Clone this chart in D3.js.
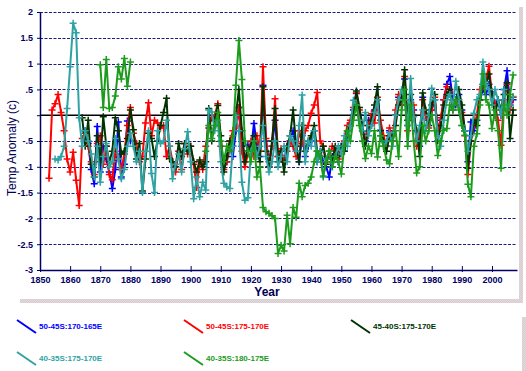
<!DOCTYPE html>
<html lang="en">
<head>
<meta charset="UTF-8">
<title>Temp Anomaly</title>
<script src="https://d3js.org/d3.v7.min.js"></script>
<style>
  body { margin: 0; background: #fff; }
  svg { display: block; font-family: "Liberation Sans", Arial, sans-serif; }
  .axis text { fill: #000066; font-weight: bold; font-size: 9px; }
  .legend text { font-size: 8px; font-weight: bold; }
</style>
</head>
<body>
<svg width="526" height="371"></svg>
<script>
// legend names and colours, in drawing order
const seriesNames = ["50-45S:170-165E", "50-45S:175-170E", "45-40S:175-170E", "40-35S:175-170E", "40-35S:180-175E"];
const seriesColors = ["#0000ff", "#ff0000", "#003300", "#2fa3a3", "#1c9c1c"];

const yTicks = [2, 1.5, 1, 0.5, 0, -0.5, -1, -1.5, -2, -2.5, -3];
const yTickLabels = ["2", "1.5", "1", ".5", "", "-.5", "-1", "-1.5", "-2", "-2.5", "-3"];
const xTicks = [1850, 1860, 1870, 1880, 1890, 1900, 1910, 1920, 1930, 1940, 1950, 1960, 1970, 1980, 1990, 2000];

// one value per year from the start year given next to each array
// 50-45S:170-165E, 1865-1880 and 1912-2007
const blueA = [-0.3, -0.55, -1.05, -1.33, -0.22,
  -1.1, -0.6, -0.85, -1.1, -1.42, -1.05, -0.13, -1.2, -0.95, -0.11,
  -0.5];
const blueB = [-0.9, -0.6, -0.8, -0.3, 0.15, -0.6, -0.9, -0.58,
  -0.7, -0.16, -0.6, -0.8, 0.58, -0.5, -0.9, -0.6, -0.1, -0.8,
  -0.7, -0.9, -0.6, -0.5, -0.3, -0.7, -0.9, -0.4, -0.8, -0.6,
  -0.5, -0.3, -0.9, -0.7, -0.9, -1.0, -1.2, -0.8, -0.7, -0.9,
  -0.6, -0.7, -0.4, -0.2, 0.1, 0.42, 0.0, -0.3, -0.5, -0.1,
  -0.2, 0.1, 0.3, -0.29, -0.5, -0.6, -0.3, -0.5, 0.0, 0.35,
  0.2, 0.7, -0.2, 0.3, 0.1, -0.5, -0.6, 0.35, 0.0, -0.2,
  0.1, 0.3, -0.3, -0.1, 0.3, 0.6, 0.75, 0.3, 0.2, 0.4,
  0.1, -0.3, -0.9, -0.13, -0.3, -0.1, 0.3, 0.5, 0.4, 0.6,
  0.45, 0.2, 0.3, 0.0, 0.5, 0.86, 0.2, 0.3];

// 50-45S:175-170E, 1853-2007
const red = [-1.22, 0.1, 0.22, 0.4, 0.05, -0.3, -0.85,
  -1.1, -0.72, -1.26, -1.75, -0.45, -0.35, -0.6, -0.9, -1.15, -0.55,
  -0.4, -0.95, -0.6, -1.15, -1.25, -0.7, -0.85, -1.05, -0.75, -0.2,
  0.15, -0.35, -0.55, -0.9, -0.8, -0.15, 0.24, -0.4, -0.1, -0.15,
  -0.25, -0.2, -0.8, -0.6, -0.9, -1.1, -0.7, -1.05, -0.55, -0.75,
  -0.6, -0.95, -1.4, -0.9, -1.05, -0.6, -0.25, -0.05, 0.0, 0.22,
  -0.6, -1.05, -0.9, -0.5, -0.3, -0.25, 0.15, -0.7, -1.0, -0.75,
  -0.5, -0.8, -0.4, -0.7, 0.94, -0.45, -1.0, -0.6, 0.32, -0.8,
  -0.65, -0.9, -0.7, -0.5, -0.6, -0.8, -0.3, -0.55, -0.3, -0.2,
  0.04, 0.2, 0.44, -0.5, -0.6, -0.9, -0.8, -0.6, -0.7, -0.85,
  -0.7, -0.5, -0.2, -0.1, 0.15, 0.43, 0.1, -0.3, -0.45, -0.2,
  0.03, -0.15, 0.35, -0.1, -0.4, -0.6, -0.25, -0.5, 0.1, 0.4,
  0.2, 0.75, -0.3, 0.1, 0.2, -0.6, -0.4, 0.3, 0.0, -0.25,
  0.1, 0.35, -0.3, -0.05, 0.3, 0.55, 0.45, 0.2, 0.25, 0.3,
  0.05, -0.4, -1.15, -0.5, -0.2, 0.0, 0.5, 0.55, 0.7, 0.95,
  0.4, 0.2, -0.1, -0.58, 0.3, 0.6, 0.1, 0.35];

// 45-40S:175-170E, 1864-2007
const darkGreen = [-0.05, -0.6, -0.1, -0.95, -1.2, -0.4,
  -0.9, -0.03, -0.6, -0.9, -0.7, -0.05, -0.3, -0.75, -0.7, -0.45,
  0.1, -0.28, -0.85, -0.55, -1.47, -0.85, -0.35, -0.45, -0.8, -0.5,
  -0.2, 0.05, 0.33, -0.84, -0.9, -1.0, -0.55, -0.8, -0.55, -0.7,
  -0.6, -0.9, -1.1, -0.87, -1.0, -0.9, 0.13, -0.5, -0.1, 0.19,
  -0.4, -1.1, -0.8, -0.5, -0.6, 0.0, 0.5, -0.3, -0.9, -0.7,
  -0.6, -0.4, -0.7, -0.9, 0.55, -0.7, -1.0, -0.5, 0.13, -0.9,
  -0.7, -1.1, -0.6, -0.4, 0.1, -0.6, -0.9, -0.2, -0.7, -0.5,
  -0.4, -0.2, -0.7, -0.8, -0.6, -0.95, -0.7, -0.9, -0.6, -0.8,
  -0.6, -0.7, -0.3, -0.2, 0.0, 0.47, 0.15, -0.2, -0.6, -0.3,
  -0.1, 0.2, 0.55, -0.3, -0.5, -0.7, -0.4, -0.4, -0.2, 0.2,
  0.3, 0.88, -0.1, 0.4, 0.0, -0.3, -0.8, 0.43, 0.1, -0.1,
  0.2, 0.4, -0.5, -0.2, 0.2, 0.4, 0.5, 0.1, 0.3, 0.5,
  0.2, -0.3, -1.03, -0.5, -0.1, -0.2, 0.3, 0.6, 0.61, 0.8,
  0.4, 0.0, 0.3, 0.1, 0.4, 0.63, -0.45, 0.1];

// 40-35S:175-170E, 1855-2007
const teal = [-0.85, -0.87, -0.8, -0.6, 0.13,
  0.94, 1.78, 1.6, -0.05, -0.6, -0.3, -0.5, -0.75, -1.2, -0.6,
  -1.3, -0.8, -0.55, -1.0, -0.9, -0.45, -0.85, -1.23, -1.05, -0.6,
  -0.35, -0.6, -0.9, -0.7, -1.5, -0.7, -0.3, -1.13, -1.5, -0.3,
  -0.55, -0.5, -0.1, -0.6, -1.23, -0.95, -0.75, -1.1, -0.65, -0.32,
  -0.9, -1.62, -1.2, -1.58, -1.3, -1.45, 0.1, 0.06, -0.3, -0.1,
  -0.9, -1.32, -1.39, -1.42, -0.6, 0.0, -0.3, -1.3, -1.65, -1.6,
  -0.7, -0.5, -0.8, -0.6, -0.2, -0.8, -1.1, -0.9, -0.5, -1.0,
  -0.8, -0.6, -0.9, -0.4, -0.5, -0.7, -0.2, 0.39, -0.9, -0.5,
  -0.6, -0.3, -0.9, -0.7, -1.2, -0.85, -0.7, -1.0, -0.8, -0.6,
  -0.75, -0.4, -0.6, -0.2, 0.29, 0.2, -0.1, -0.3, 0.05, -0.4,
  -0.2, 0.05, 0.3, -0.4, -0.6, -0.5, -0.34, -0.6, 0.0, 0.3,
  0.5, 0.3, -0.2, 0.71, -0.03, -0.5, -0.2, 0.1, -0.3, 0.0,
  0.52, 0.3, -0.4, -0.6, -0.1, 0.3, 0.4, 0.2, 0.66, 0.3,
  -0.2, -0.3, -0.7, -0.4, 0.04, 0.3, 0.4, 1.03, 0.6, 0.5,
  0.2, 0.5, 0.3, 0.0, 0.5, 0.1, 0.2, 0.36];

// 40-35S:180-175E, 1870-1880 and 1905-2007
const greenA = [0.98, 0.15, 1.08, 0.13, 0.15, 0.37, 0.94, 0.7, 1.1, 0.56, 1.03];
const greenB = [-0.7, -0.2, -0.45, -0.2, 0.05,
  -0.5, -0.9, -0.6, -0.7, -0.4, 0.58, 1.45, 0.69, -0.5, -0.7,
  -0.9, -0.5, -1.2, -1.0, -1.79, -1.87, -1.9, -1.95, -2.0, -2.68,
  -2.52, -2.63, -1.94, -2.49, -1.79, -1.98, -1.32, -1.58, -1.36, -1.32,
  -1.2, -0.9, -0.7, -0.8, -1.18, -0.9, -0.7, -1.0, -0.8, -0.9,
  -1.14, -0.6, -0.3, -0.5, -0.1, 0.2, -0.2, -0.5, -0.84, -0.6,
  -0.74, -0.3, -0.81, -0.4, -0.6, -0.87, -0.94, -0.5, -0.3, -0.8,
  0.1, 0.5, -0.6, 0.2, -0.5, -1.12, -1.0, -0.2, -0.5, -0.3,
  0.0, -0.3, -0.78, -0.5, -0.29, -0.26, 0.2, 0.1, 0.3, 0.1,
  -0.2, -0.39, -1.34, -1.58, -0.6, -0.36, 0.2, 0.8, 0.3, 0.2,
  -0.26, 0.1, -0.3, -1.03, 0.2, 0.0, 0.4, 0.78];

// each series is a list of [startYear, values] runs
const seriesRuns = [
  [[1865, blueA], [1912, blueB]],
  [[1853, red]],
  [[1864, darkGreen]],
  [[1855, teal]],
  [[1870, greenA], [1905, greenB]]
];

const svg = d3.select("svg");

// dithered shadow of the chart and legend boxes
const defs = svg.append("defs");
const pat = defs.append("pattern").attr("id", "dither")
  .attr("width", 2).attr("height", 2).attr("patternUnits", "userSpaceOnUse");
pat.append("rect").attr("width", 2).attr("height", 2).attr("fill", "#cfcfcf");
pat.append("rect").attr("width", 1).attr("height", 1).attr("fill", "#ecd6de");
pat.append("rect").attr("x", 1).attr("y", 1).attr("width", 1).attr("height", 1).attr("fill", "#ecd6de");

svg.append("rect").attr("x", 519).attr("y", 7).attr("width", 4).attr("height", 296).attr("fill", "url(#dither)");
svg.append("rect").attr("x", 20).attr("y", 299).attr("width", 503).attr("height", 4).attr("fill", "url(#dither)");
svg.append("rect").attr("x", 522).attr("y", 317).attr("width", 4).attr("height", 54).attr("fill", "url(#dither)");

const x = d3.scaleLinear().domain([1850, 2008.3]).range([40, 517]);
const y = d3.scaleLinear().domain([-3, 2]).range([270, 12]);

// dashed gridlines
svg.append("g").selectAll("line")
  .data(yTicks.filter(v => v !== 0 && v !== -3))
  .join("line")
  .attr("x1", 40).attr("x2", 517)
  .attr("y1", d => Math.round(y(d)) + 0.5).attr("y2", d => Math.round(y(d)) + 0.5)
  .attr("stroke", "#1a1a80").attr("stroke-width", 1)
  .attr("stroke-dasharray", "3,1.5");

// y axis
const yAxis = svg.append("g").attr("class", "axis")
  .attr("transform", "translate(40,0)")
  .call(d3.axisLeft(y).tickValues(yTicks).tickSize(3).tickSizeOuter(0)
    .tickFormat((d, i) => yTickLabels[i]));
yAxis.select(".domain").attr("stroke", "#000066").attr("stroke-width", 1.5);
yAxis.selectAll(".tick line").attr("stroke", "#000066");
yAxis.selectAll(".tick text").attr("x", -7);

// zero line
svg.append("line")
  .attr("x1", 40).attr("x2", 517)
  .attr("y1", y(0)).attr("y2", y(0))
  .attr("stroke", "#000").attr("stroke-width", 1.5);

// x axis
const xAxis = svg.append("g").attr("class", "axis")
  .attr("transform", `translate(0,${y(-3)})`)
  .call(d3.axisBottom(x).tickValues(xTicks).tickFormat(d3.format("d")).tickSizeOuter(0));
xAxis.select(".domain").attr("stroke", "#000066").attr("stroke-width", 1.5);
xAxis.selectAll(".tick line").attr("y1", -4).attr("y2", 2).attr("stroke", "#000066");
xAxis.selectAll(".tick text").attr("y", 7);

// titles
svg.append("text")
  .attr("transform", "translate(16,148) rotate(-90)")
  .attr("text-anchor", "middle")
  .attr("fill", "#000055").attr("font-size", 12)
  .text("Temp Anomaly (c)");
svg.append("text")
  .attr("x", 267).attr("y", 296)
  .attr("text-anchor", "middle")
  .attr("fill", "#000055").attr("font-size", 12).attr("font-weight", "bold")
  .text("Year");

// lines and markers
const line = d3.line().x(d => x(d.year)).y(d => y(d.value));
const cross = "M-3.5,0H3.5M0,-3.5V3.5";

seriesRuns.forEach((runs, i) => {
  const g = svg.append("g");
  runs.forEach(([start, values]) => {
    const pts = values.map((v, k) => ({ year: start + k, value: v }));
    g.append("path")
      .datum(pts)
      .attr("d", line)
      .attr("fill", "none")
      .attr("stroke", seriesColors[i])
      .attr("stroke-width", 2)
      .attr("stroke-linejoin", "round");
    g.selectAll(null)
      .data(pts)
      .join("path")
      .attr("transform", d => `translate(${x(d.year)},${y(d.value)})`)
      .attr("d", cross)
      .attr("stroke", seriesColors[i])
      .attr("stroke-width", 1.5);
  });
});

// legend
const legendPos = [[17, 320], [184, 320], [351, 320], [17, 352], [184, 352]];
const legend = svg.append("g").attr("class", "legend");
seriesNames.forEach((name, i) => {
  const [lx, ly] = legendPos[i];
  legend.append("line")
    .attr("x1", lx).attr("y1", ly)
    .attr("x2", lx + 19).attr("y2", ly + 13)
    .attr("stroke", seriesColors[i]).attr("stroke-width", 2);
  legend.append("text")
    .attr("x", lx + 22).attr("y", ly + 9)
    .attr("fill", seriesColors[i])
    .text(name);
});
</script>
</body>
</html>
